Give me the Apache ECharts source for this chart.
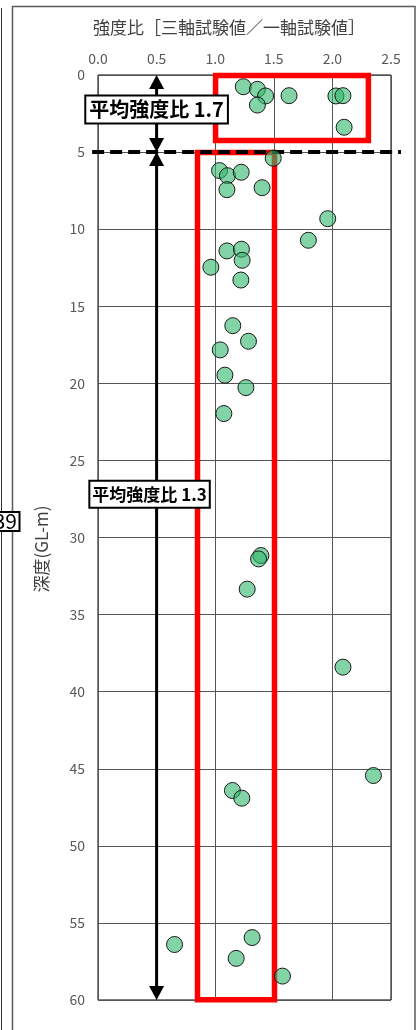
<!DOCTYPE html>
<html>
<head>
<meta charset="utf-8">
<script src="https://cdn.jsdelivr.net/npm/echarts@6/dist/echarts.min.js"></script>
<style>
  html, body { margin: 0; padding: 0; background: #fff; }
  #chart { width: 418px; height: 1030px; }
</style>
</head>
<body>
<div id="chart"></div>
<script>
// Strength ratio (triaxial / unconfined) against depth
const strengthRatio = [
  1.24, 1.36, 1.43, 1.36, 1.63, 2.03, 2.09, 2.10,
  1.495, 1.037, 1.105, 1.222, 1.10, 1.40, 1.96, 1.795, 1.10, 1.224, 1.23, 0.963,
  1.219, 1.15, 1.284, 1.043, 1.083, 1.262, 1.074, 1.39, 1.37, 1.273,
  2.09, 2.35, 1.147, 1.227, 0.653, 1.315, 1.179, 1.574
];
const depth = [
  0.76, 0.93, 1.36, 1.95, 1.34, 1.36, 1.34, 3.39,
  5.40, 6.20, 6.53, 6.31, 7.44, 7.31, 9.32, 10.72, 11.41, 11.30, 12.02, 12.47,
  13.30, 16.26, 17.27, 17.83, 19.47, 20.28, 21.96, 31.17, 31.39, 33.35,
  38.41, 45.44, 46.41, 46.91, 56.40, 55.95, 57.30, 58.45
];

// Axis ticks
const xTicks = [0.0, 0.5, 1.0, 1.5, 2.0, 2.5];
const yTicks = [0, 5, 10, 15, 20, 25, 30, 35, 40, 45, 50, 55, 60];

// Zone boundaries: [ratio from, depth from, ratio to, depth to]
const zoneBoxes = [
  [1.003, 0.03, 2.307, 4.25],
  [0.849, 5.03, 1.506, 59.98]
];
// Boundary depth between the two zones, drawn across [ratio from, ratio to]
const boundaryDepth = 5;
const boundarySpan = [-0.05, 2.585];
// Depth-range arrows: [ratio, depth from, depth to]
const arrowSpans = [
  [0.5, 0, 5],
  [0.5, 5, 60]
];
// Average labels: [ratio, depth, text]
const zoneLabels = [
  [0.5, 2.24, '平均強度比 1.7'],
  [0.44, 27.2, '平均強度比 1.3']
];

const titleText = '強度比［三軸試験値／一軸試験値］';
const yTitleText = '深度(GL-m)';
const sideTag = '39';

const FONT = '"Noto Sans CJK JP", "Noto Sans", sans-serif';

const chart = echarts.init(document.getElementById('chart'), null, { renderer: 'canvas' });

const points = strengthRatio.map((v, i) => [v, depth[i]]);

const option = {
  animation: false,
  backgroundColor: '#fff',
  grid: {
    left: 98, top: 75, width: 293, height: 925,
    show: true, borderColor: '#000', borderWidth: 1, backgroundColor: 'transparent'
  },
  xAxis: {
    type: 'value', position: 'top',
    min: xTicks[0], max: xTicks[xTicks.length - 1], interval: xTicks[1] - xTicks[0],
    axisLine: { show: false }, axisTick: { show: false },
    axisLabel: { color: '#595959', fontSize: 14, margin: 9, fontFamily: FONT,
      formatter: v => v.toFixed(1) },
    splitLine: { show: true, lineStyle: { color: '#555', width: 1 } }
  },
  yAxis: {
    type: 'value', inverse: true,
    min: yTicks[0], max: yTicks[yTicks.length - 1], interval: yTicks[1] - yTicks[0],
    axisLine: { show: false }, axisTick: { show: false },
    axisLabel: { color: '#595959', fontSize: 14, margin: 13, fontFamily: FONT },
    splitLine: { show: true, lineStyle: { color: '#555', width: 1 } }
  },
  graphic: [
    // outer frame lines
    { type: 'line', shape: { x1: 1.5, y1: 8, x2: 1.5, y2: 1030 }, style: { stroke: '#333', lineWidth: 1 }, z: 1 },
    { type: 'rect', shape: { x: 12.5, y: 6.5, width: 402.5, height: 1100 }, style: { fill: 'none', stroke: '#5a5a5a', lineWidth: 1.5 }, z: 1 },
    // side tag
    { type: 'rect', shape: { x: -10, y: 512, width: 29.5, height: 19 }, style: { fill: '#fff', stroke: '#000', lineWidth: 2 }, z: 10 },
    { type: 'text', x: 17, y: 521.5, style: { text: sideTag, align: 'right', verticalAlign: 'middle', font: '21px ' + FONT, fill: '#000' }, z: 11 },
    // titles
    { type: 'text', x: 229, y: 28, style: { text: titleText, align: 'center', verticalAlign: 'middle', font: '17px ' + FONT, fill: '#404040' }, z: 10 },
    { type: 'text', x: 42, y: 549, rotation: Math.PI / 2, style: { text: yTitleText, align: 'center', verticalAlign: 'middle', font: '17px ' + FONT, fill: '#404040' }, z: 10 }
  ],
  series: [
    {
      // red zone boxes
      type: 'custom', coordinateSystem: 'cartesian2d', clip: false, z: 3,
      encode: { x: [0, 2], y: [1, 3] },
      data: zoneBoxes,
      renderItem: (params, api) => {
        const a = api.coord([api.value(0), api.value(1)]);
        const b = api.coord([api.value(2), api.value(3)]);
        return {
          type: 'rect',
          shape: { x: a[0], y: a[1], width: b[0] - a[0], height: b[1] - a[1] },
          style: { fill: 'none', stroke: '#ff0000', lineWidth: 5.5 }
        };
      }
    },
    {
      // dashed zone boundary
      type: 'custom', coordinateSystem: 'cartesian2d', clip: false, z: 4,
      encode: { x: [0, 1], y: 2 },
      data: [[boundarySpan[0], boundarySpan[1], boundaryDepth]],
      renderItem: (params, api) => {
        const a = api.coord([api.value(0), api.value(2)]);
        const b = api.coord([api.value(1), api.value(2)]);
        return {
          type: 'line',
          shape: { x1: a[0], y1: a[1], x2: b[0], y2: b[1] },
          style: { stroke: '#000', lineWidth: 4, lineDash: [12, 6] }
        };
      }
    },
    {
      // depth range arrows
      type: 'custom', coordinateSystem: 'cartesian2d', clip: false, z: 5,
      encode: { x: 0, y: [1, 2] },
      data: arrowSpans,
      renderItem: (params, api) => {
        const t = api.coord([api.value(0), api.value(1)]);
        const b = api.coord([api.value(0), api.value(2)]);
        const x = t[0], hl = 14, hw = 7.5;
        return {
          type: 'group',
          children: [
            { type: 'line', shape: { x1: x, y1: t[1] + hl - 1, x2: x, y2: b[1] - hl + 1 }, style: { stroke: '#000', lineWidth: 3 } },
            { type: 'polygon', shape: { points: [[x, t[1]], [x - hw, t[1] + hl], [x + hw, t[1] + hl]] }, style: { fill: '#000' } },
            { type: 'polygon', shape: { points: [[x, b[1]], [x - hw, b[1] - hl], [x + hw, b[1] - hl]] }, style: { fill: '#000' } }
          ]
        };
      }
    },
    {
      type: 'scatter', z: 6,
      data: points,
      symbol: 'circle', symbolSize: 16,
      itemStyle: { color: 'rgba(46, 184, 106, 0.6)', borderColor: '#1a1a1a', borderWidth: 1, opacity: 1 }
    },
    {
      // average labels
      type: 'custom', coordinateSystem: 'cartesian2d', clip: false, z: 8,
      encode: { x: 0, y: 1 },
      data: zoneLabels,
      renderItem: (params, api) => {
        const p = api.coord([api.value(0), api.value(1)]);
        const first = params.dataIndex === 0;
        return {
          type: 'text',
          x: p[0], y: p[1],
          style: {
            text: zoneLabels[params.dataIndex][2],
            align: 'center', verticalAlign: 'middle',
            font: 'bold ' + (first ? 20 : 17) + 'px ' + FONT,
            fill: '#000', backgroundColor: '#fff',
            borderColor: '#000', borderWidth: 2,
            padding: first ? [3, 3] : [4, 2]
          }
        };
      }
    }
  ]
};

chart.setOption(option);
</script>
</body>
</html>
